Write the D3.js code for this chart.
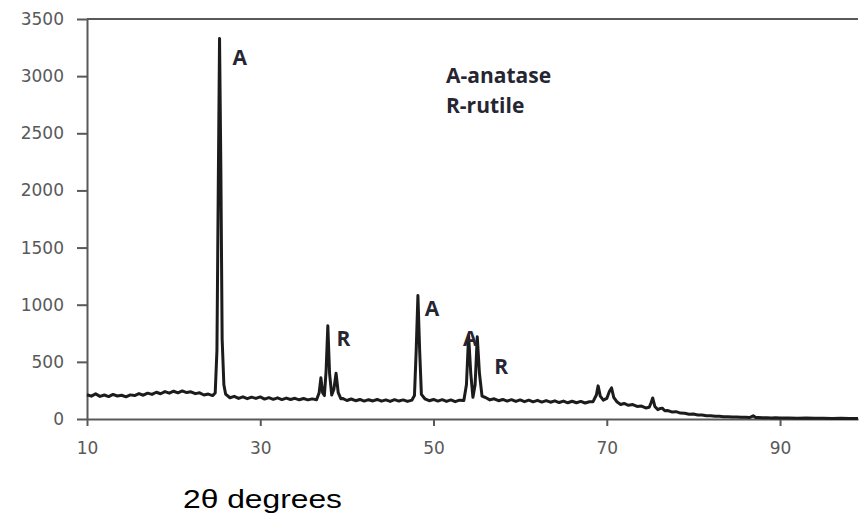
<!DOCTYPE html>
<html>
<head>
<meta charset="utf-8">
<script src="https://cdn.jsdelivr.net/npm/d3@7"></script>
<style>
  body { margin: 0; background: #fff; }
  svg { display: block; }
</style>
</head>
<body>
<svg id="xrd"></svg>
<script>
const width = 859,
    height = 520

// diffraction pattern (2theta in degrees, counts)
const twoTheta = [
    10.0, 10.5, 11.0, 11.5, 12.0, 12.5, 13.0, 13.5, 14.0, 14.5, 15.0, 15.5, 16.0, 16.5, 17.0, 17.5,
    18.0, 18.5, 19.0, 19.5, 20.0, 20.5, 21.0, 21.5, 22.0, 22.5, 23.0, 23.5, 24.0, 24.5, 24.8,
    25.0, 25.15, 25.3, 25.45, 25.6, 25.8,
    26.0, 26.5, 27.0, 27.5, 28.0, 28.5, 29.0, 29.5, 30.0, 30.5, 31.0, 31.5, 32.0, 32.5, 33.0, 33.5,
    34.0, 34.5, 35.0, 35.5, 36.0, 36.5,
    36.8, 37.0, 37.2, 37.4, 37.6, 37.8, 38.0, 38.25, 38.5, 38.75, 39.0, 39.3,
    39.5, 40.0, 40.5, 41.0, 41.5, 42.0, 42.5, 43.0, 43.5, 44.0, 44.5, 45.0, 45.5, 46.0, 46.5, 47.0, 47.5,
    47.8, 48.0, 48.2, 48.4, 48.6,
    49.0, 49.5, 50.0, 50.5, 51.0, 51.5, 52.0, 52.5, 53.0, 53.5,
    53.8, 54.05, 54.3, 54.55, 54.8, 55.05, 55.3, 55.6,
    56.0, 56.5, 57.0, 57.5, 58.0, 58.5, 59.0, 59.5, 60.0, 60.5, 61.0, 61.5, 62.0, 62.5, 63.0, 63.5,
    64.0, 64.5, 65.0, 65.5, 66.0, 66.5, 67.0, 67.5, 68.0, 68.4,
    68.8, 69.0, 69.25, 69.6, 70.0, 70.3, 70.55, 70.8,
    71.2, 71.6, 72.0, 72.5, 73.0, 73.5, 74.0, 74.5, 74.9,
    75.1, 75.3, 75.55, 75.9, 76.2, 76.4, 76.7,
    77.0, 77.5, 78.0, 78.5, 79.0, 79.5, 80.0, 80.5, 81.0, 81.5, 82.0, 82.5, 83.0, 83.5, 84.0, 84.5,
    85.0, 85.5, 86.0, 86.5, 86.9, 87.2, 87.5, 88.0, 88.5, 89.0, 89.5, 90.0,
    91.0, 92.0, 93.0, 94.0, 95.0, 96.0, 97.0, 98.0, 99.0
]
const counts = [
    212, 200, 220, 198, 210, 196, 215, 201, 208, 194, 211, 205, 222, 208, 226, 215,
    234, 221, 240, 226, 243, 229, 246, 231, 238, 222, 229, 210, 218, 205, 228,
    600, 2000, 3330, 2200, 700, 300,
    218, 186, 198, 180, 194, 178, 191, 180, 193, 174, 187, 172, 185, 170, 183, 171,
    181, 168, 179, 167, 176, 169,
    230, 360, 230, 205, 420, 816, 400, 210, 260, 400, 230, 178,
    180, 162, 175, 160, 171, 157, 169, 158, 171, 156, 167, 154, 169, 157, 167, 154, 165,
    205, 600, 1080, 600, 215,
    177, 160, 171, 157, 169, 154, 167, 152, 165, 162,
    300, 728, 400, 190, 300, 720, 400, 200,
    188, 167, 177, 160, 171, 157, 169, 154, 167, 152, 165, 150, 163, 148, 161, 147,
    159, 144, 157, 142, 155, 142, 154, 140, 151, 150,
    210, 290, 200, 165, 180, 240, 272, 190,
    148, 127, 136, 120, 126, 110, 113, 97, 103,
    140, 184, 110, 82, 92, 95, 72,
    74, 62, 64, 52, 51, 42, 43, 35, 35, 29, 29, 24, 24, 20, 20, 17,
    17, 15, 15, 13, 28, 13, 14, 11, 12, 9, 10, 8,
    9, 7, 8, 6, 7, 5, 6, 5, 5
]

const yTicks = [0, 500, 1000, 1500, 2000, 2500, 3000, 3500]
const xTicks = [10, 30, 50, 70, 90]

// peak markers
const peakLabels = ["A", "R", "A", "A", "R"]
const peakAngles = [26.8, 38.8, 49.0, 53.4, 57.0]
const peakHeights = [3100, 640, 900, 640, 390]

const legendLines = ["A-anatase", "R-rutile"]

const svg = d3.select("#xrd")
    .attr("width", width)
    .attr("height", height)

const x = d3.scaleLinear().domain([10, 99]).range([87, 858])
const y = d3.scaleLinear().domain([0, 3500]).range([419, 19])

const axisColor = "#595959"

// top frame line at 3500
svg.append("line")
    .attr("x1", x(10)).attr("x2", x(99))
    .attr("y1", y(3500)).attr("y2", y(3500))
    .attr("stroke", axisColor)
    .attr("stroke-width", 2)

const yAxis = svg.append("g")
    .attr("transform", "translate(" + x(10) + ",0)")
    .call(d3.axisLeft(y).tickValues(yTicks).tickFormat(d3.format("d"))
        .tickSize(10).tickSizeOuter(0).tickPadding(13))

const xAxis = svg.append("g")
    .attr("transform", "translate(0," + y(0) + ")")
    .call(d3.axisBottom(x).tickValues(xTicks).tickFormat(d3.format("d"))
        .tickSize(7).tickSizeOuter(0).tickPadding(16))

for (const ax of [yAxis, xAxis]) {
    ax.select(".domain").attr("stroke", axisColor).attr("stroke-width", 2)
    ax.selectAll(".tick line").attr("stroke", axisColor).attr("stroke-width", 2)
    ax.selectAll(".tick text")
        .attr("fill", axisColor)
        .style("font-family", "DejaVu Sans")
        .style("font-size", "17px")
}

// the pattern
const pts = twoTheta.map((t, i) => [t, counts[i]])
const line = d3.line()
    .x(d => x(d[0]))
    .y(d => y(d[1]))

svg.append("path")
    .datum(pts)
    .attr("d", line)
    .attr("fill", "none")
    .attr("stroke", "#1c1c1c")
    .attr("stroke-width", 3)
    .attr("stroke-linejoin", "round")

// peak letters
svg.selectAll(".peak")
    .data(peakLabels)
    .join("text")
    .attr("class", "peak")
    .attr("x", (d, i) => x(peakAngles[i]))
    .attr("y", (d, i) => y(peakHeights[i]))
    .attr("fill", "#262633")
    .style("font-family", "Open Sans")
    .style("font-weight", "bold")
    .style("font-size", "21px")
    .text(d => d)

svg.selectAll(".legend")
    .data(legendLines)
    .join("text")
    .attr("class", "legend")
    .attr("x", 446)
    .attr("y", (d, i) => 83 + i * 30)
    .attr("fill", "#262633")
    .style("font-family", "Open Sans")
    .style("font-weight", "bold")
    .style("font-size", "21px")
    .text(d => d)

svg.append("text")
    .attr("x", 183)
    .attr("y", 508)
    .attr("fill", "#000")
    .attr("textLength", 159)
    .attr("lengthAdjust", "spacingAndGlyphs")
    .style("font-family", "Liberation Sans")
    .style("font-size", "25px")
    .text("2θ degrees")
</script>
</body>
</html>
